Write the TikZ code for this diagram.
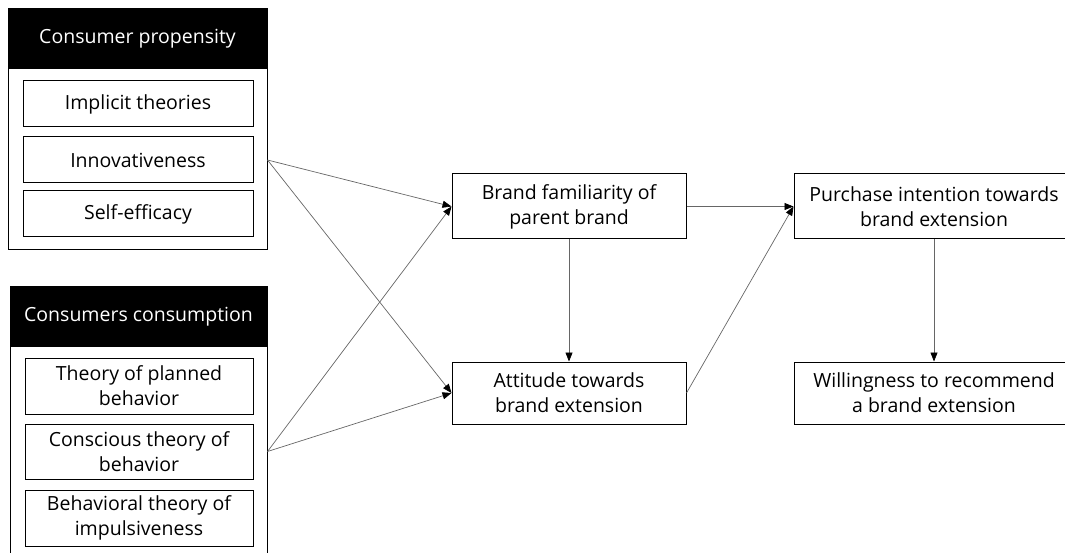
\documentclass[tikz,border=0pt]{standalone}
\usepackage{fontspec}
\setmainfont{Open Sans}
\usetikzlibrary{arrows.meta}

\begin{document}
\begin{tikzpicture}[x=1pt, y=-1pt, every node/.style={font=\fontsize{19.5}{25}\selectfont, align=center, inner sep=0pt},
	box/.style={draw, line width=1pt, minimum height=46pt},
	head/.style={fill=black, text=white, minimum width=259pt, minimum height=60pt},
	>={Triangle[length=9pt, width=7pt, color=black]}, link/.style={->, draw=black!60, line width=0.7pt}]
	\useasboundingbox (0,0) rectangle (1065,553);
	\clip (0,0) rectangle (1065,553);
	% consumer propensity
	\node[draw, line width=1pt, minimum width=259pt, minimum height=241pt] (propBox) at (137.5,129.5) {};
	\node[head] (propHead) at (137.5,39) {Consumer propensity};
	\node[box, minimum width=230pt] (implicit) at (138,104) {Implicit theories};
	\node[box, minimum width=230pt] (innov) at (138,160) {Innovativeness};
	\node[box, minimum width=230pt] (selfeff) at (138,214) {Self-efficacy};
	% consumers consumption
	\node[draw, line width=1pt, minimum width=257pt, minimum height=280pt] (consBox) at (138.5,427) {};
	\node[head, minimum width=257pt] (consHead) at (138.5,316.5) {Consumers consumption};
	\node[box, minimum width=228pt, minimum height=56pt] (planned) at (139,386) {Theory of planned\\behavior};
	\node[box, minimum width=228pt, minimum height=55pt] (conscious) at (139,451.5) {Conscious theory of\\behavior};
	\node[box, minimum width=228pt, minimum height=56pt] (impulse) at (139,518) {Behavioral theory of\\impulsiveness};
	% model
	\node[box, minimum width=234pt, minimum height=65pt] (fam) at (569,206.5) {Brand familiarity of\\parent brand};
	\node[box, minimum width=234pt, minimum height=62pt] (att) at (569,393) {Attitude towards\\brand extension};
	\node[box, minimum width=280pt, minimum height=65pt] (purch) at (934,206.5) {Purchase intention towards\\brand extension};
	\node[box, minimum width=280pt, minimum height=62pt] (recom) at (934,393) {Willingness to recommend\\a brand extension};
	\coordinate (propOut) at (propBox.east |- innov.east);
	\coordinate (consOut) at (consBox.east |- conscious.east);
	\draw[link] (propOut) -- (fam.west);
	\draw[link] (propOut) -- (att.west);
	\draw[link] (consOut) -- (fam.west);
	\draw[link] (consOut) -- (att.west);
	\draw[link] (fam) -- (att);
	\draw[link] (fam) -- (purch);
	\draw[link] (att.east) -- (purch.west);
	\draw[link] (purch) -- (recom);
\end{tikzpicture}
\end{document}
